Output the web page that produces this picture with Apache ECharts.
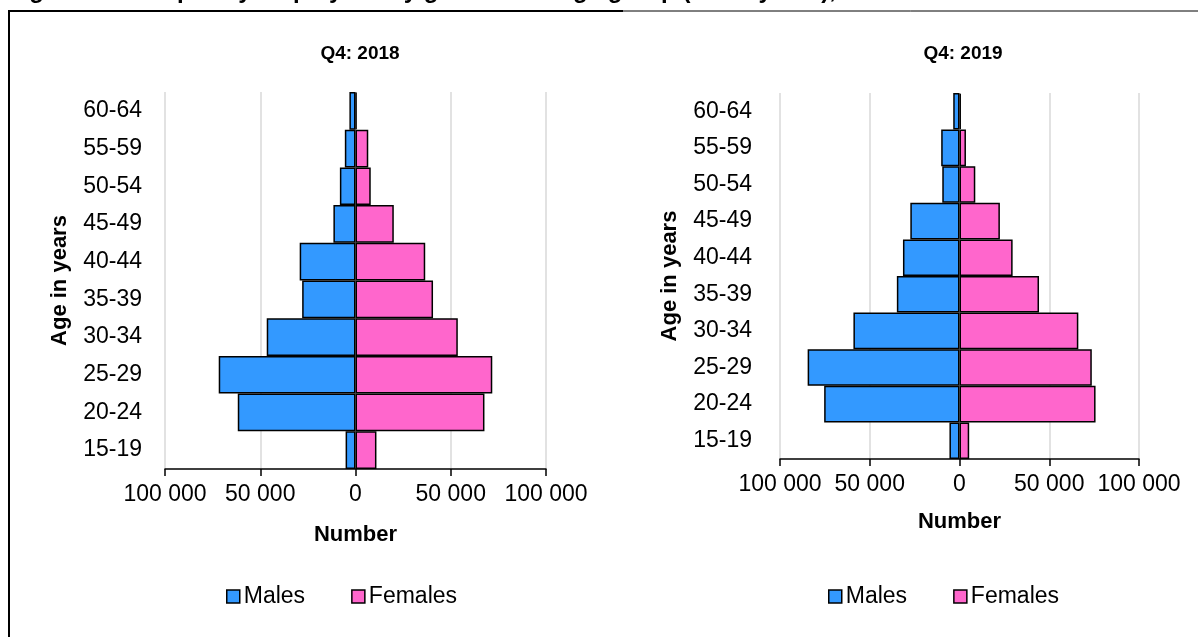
<!DOCTYPE html>
<html>
<head>
<meta charset="utf-8">
<script src="https://cdn.jsdelivr.net/npm/echarts@6/dist/echarts.min.js"></script>
<style>
html,body{margin:0;padding:0;background:#fff;}
#chart{width:1198px;height:637px;}
</style>
</head>
<body>
<div id="chart"></div>
<script>
// ---- data ----
const ageGroups = ['15-19','20-24','25-29','30-34','35-39','40-44','45-49','50-54','55-59','60-64'];
const males2018   = [5200, 61800, 71800, 46600, 28000, 29300, 11600, 8200, 5600, 3200];
const females2018 = [11000, 67700, 71800, 53700, 40700, 36600, 20100, 8000, 6700, 600];
const males2019   = [5600, 75400, 84600, 59100, 34900, 31500, 27400, 9600, 10200, 3500];
const females2019 = [5400, 75800, 73700, 66200, 44300, 29600, 22500, 8800, 3600, 800];
const panelTitles = ['Q4: 2018', 'Q4: 2019'];
const seriesNames = ['Males', 'Females'];
const figureTitle = 'Figure 14: Temporary employees by gender and age group (15-64 years), 2018-2019';

const FONT = "'Liberation Sans', Arial, sans-serif";
const BLUE = '#3399FF', PINK = '#FF66CC';
const fmt = v => String(Math.abs(v)).replace(/\B(?=(\d{3})+(?!\d))/g, ' ');

const grids = [
  {left: 165, top: 92, width: 381, height: 377},
  {left: 780, top: 93, width: 359, height: 366}
];

function xAx(i, nameGap) {
  return {
    type: 'value', gridIndex: i, min: -100000, max: 100000, interval: 50000,
    name: 'Number', nameLocation: 'middle', nameGap: nameGap,
    nameTextStyle: {fontFamily: FONT, fontSize: 22, fontWeight: 'bold', color: '#000'},
    axisLine: {show: true, onZero: false, lineStyle: {color: '#000', width: 1.5}},
    axisTick: {show: true, length: 7, lineStyle: {color: '#000', width: 1.5}},
    axisLabel: {formatter: fmt, fontFamily: FONT, fontSize: 23, color: '#000', margin: 14},
    splitLine: {show: true, lineStyle: {color: '#d9d9d9', width: 1.5}}
  };
}
function yAx(i, nameGap, margin) {
  return {
    type: 'category', gridIndex: i, data: ageGroups,
    name: 'Age in years', nameLocation: 'middle', nameGap: nameGap, nameRotate: 90,
    nameTextStyle: {fontFamily: FONT, fontSize: 22, fontWeight: 'bold', color: '#000'},
    axisLine: {show: false, onZero: false},
    axisTick: {show: false},
    axisLabel: {fontFamily: FONT, fontSize: 23, color: '#000', margin: margin},
    splitLine: {show: false}
  };
}
function barSeries(name, data, idx, color, neg) {
  return {
    type: 'bar', name: name, xAxisIndex: idx, yAxisIndex: idx, stack: 'pyr' + idx,
    data: data.map(v => neg ? -v : v),
    barCategoryGap: '0%',
    itemStyle: {color: color, borderColor: '#000', borderWidth: 1.5},
    emphasis: {disabled: true}
  };
}
function legend(left) {
  return {
    data: seriesNames, left: left, top: 580, icon: 'rect', itemWidth: 13, itemHeight: 13,
    itemGap: 46,
    itemStyle: {borderColor: '#000', borderWidth: 1.5},
    textStyle: {fontFamily: FONT, fontSize: 23, color: '#000', padding: [0,0,0,-1]}
  };
}

const chart = echarts.init(document.getElementById('chart'), null, {renderer: 'canvas'});
chart.setOption({
  animation: false,
  backgroundColor: '#fff',
  title: [
    {text: panelTitles[0], left: 355, top: 39, textAlign: 'center',
     textStyle: {fontFamily: FONT, fontSize: 19, fontWeight: 'bold', color: '#000'}},
    {text: panelTitles[1], left: 958, top: 39, textAlign: 'center',
     textStyle: {fontFamily: FONT, fontSize: 19, fontWeight: 'bold', color: '#000'}}
  ],
  grid: grids,
  xAxis: [xAx(0, 55), xAx(1, 52)],
  yAxis: [yAx(0, 94, 23), yAx(1, 99, 28)],
  legend: [legend(221), legend(823)],
  series: [
    barSeries(seriesNames[0], males2018, 0, BLUE, true),
    barSeries(seriesNames[1], females2018, 0, PINK, false),
    barSeries(seriesNames[0], males2019, 1, BLUE, true),
    barSeries(seriesNames[1], females2019, 1, PINK, false)
  ],
  graphic: [
    {type: 'text', left: 8, top: -21, silent: true,
     style: {text: figureTitle, fontFamily: FONT, fontSize: 24, fontWeight: 'bold', fill: '#000'}},
    {type: 'line', silent: true, shape: {x1: 8, y1: 11, x2: 623, y2: 11}, style: {stroke: '#000', lineWidth: 2}},
    {type: 'line', silent: true, shape: {x1: 623, y1: 11, x2: 1198, y2: 11}, style: {stroke: '#000', lineWidth: 1}},
    {type: 'line', silent: true, shape: {x1: 9, y1: 10, x2: 9, y2: 637}, style: {stroke: '#000', lineWidth: 2}}
  ]
});
</script>
</body>
</html>
